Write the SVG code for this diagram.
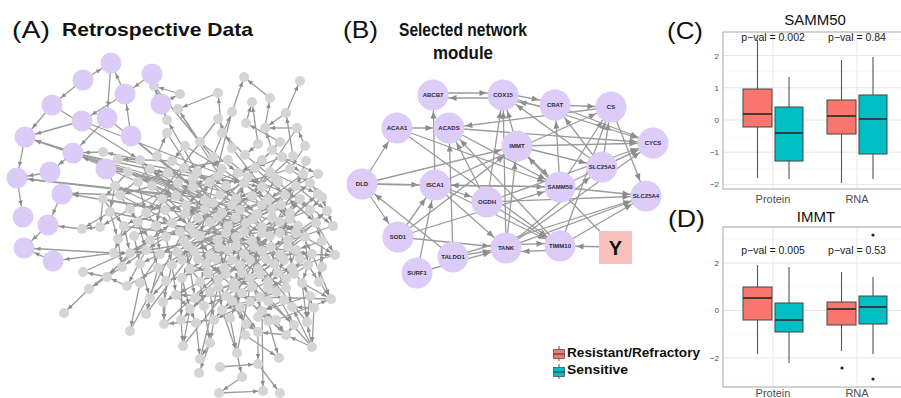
<svg xmlns="http://www.w3.org/2000/svg" width="901" height="398" viewBox="0 0 901 398">
<style>
text{font-family:"Liberation Sans",Arial,sans-serif}
.lbl{font-size:24px;fill:#111}
.ttl{font-size:18.5px;font-weight:bold;fill:#111}
.ea path{stroke:#9b9b9b;stroke-width:1.3;fill:none;marker-end:url(#arrA)}
.ep path{stroke:#9b9b9b;stroke-width:1.3;fill:none;marker-end:url(#arrAP)}
.gn circle{fill:#d5d5d5}
.pn circle{fill:#dccaf7}
.eb path{stroke:#9b9b9b;stroke-width:1.3;fill:none;marker-end:url(#arrB)}
.bn circle{fill:#ddccf7}
.bn text{font-size:6px;font-weight:bold;fill:#2a2a33;text-anchor:middle}
.gmaj{stroke:#e6e6e6;stroke-width:1}
.gmin{stroke:#f3f3f3;stroke-width:0.6}
.frame{fill:none;stroke:#a6a6a6;stroke-width:1}
.tick{font-size:8px;fill:#4d4d4d;text-anchor:end}
.xl{font-size:11px;fill:#4d4d4d;text-anchor:middle}
.pt{font-size:15px;fill:#111;text-anchor:middle}
.pv{font-size:10.5px;fill:#1a1a1a;text-anchor:middle}
.wh{stroke:#555;stroke-width:1.1}
.bxr{fill:#F8766D;stroke:#444;stroke-width:1}
.bxc{fill:#00BFC4;stroke:#444;stroke-width:1}
.med{stroke:#333;stroke-width:1.8}
.leg{font-size:13px;font-weight:bold;fill:#111}
</style>
<defs>
<marker id="arrA" markerUnits="userSpaceOnUse" markerWidth="12" markerHeight="6" refX="10" refY="2.2" orient="auto" overflow="visible"><path d="M0,0L5,2.2L0,4.4z" fill="#8c8c8c"/></marker>
<marker id="arrAP" markerUnits="userSpaceOnUse" markerWidth="18" markerHeight="6" refX="16.5" refY="2.2" orient="auto" overflow="visible"><path d="M0,0L5,2.2L0,4.4z" fill="#8c8c8c"/></marker>
<marker id="arrB" markerUnits="userSpaceOnUse" markerWidth="26" markerHeight="7" refX="23.5" refY="3" orient="auto" overflow="visible"><path d="M0,0L7,3L0,6z" fill="#8c8c8c"/></marker>
</defs>
<rect width="901" height="398" fill="#fff"/>

<!-- Panel A -->
<text class="lbl" x="12" y="38" textLength="38" lengthAdjust="spacingAndGlyphs">(A)</text>
<text class="ttl" x="62" y="36" textLength="191" lengthAdjust="spacingAndGlyphs">Retrospective Data</text>

<g id="connectors-a">
<g class="ea">
<path d="M185 146L172 161"/><path d="M185 146L222 169"/><path d="M200 142L238 173"/><path d="M200 142L178 109"/><path d="M232 148L218 119"/><path d="M232 148L262 187"/><path d="M258 144L245 155"/><path d="M258 144L252 102"/><path d="M272 150L303 174"/><path d="M272 150L265 128"/><path d="M305 146L290 169"/><path d="M305 146L297 128"/>
<path d="M140 160L152 186"/><path d="M140 160L103 152"/><path d="M157 156L193 187"/><path d="M157 156L167 133"/><path d="M172 161L210 182"/><path d="M172 161L118 159"/><path d="M213 157L197 172"/><path d="M213 157L232 112"/><path d="M228 160L262 187"/><path d="M228 160L184 168"/><path d="M245 155L278 182"/><path d="M245 155L222 133"/><path d="M262 160L238 173"/><path d="M262 160L280 142"/><path d="M282 157L255 168"/><path d="M282 157L318 174"/><path d="M306 161L296 186"/>
<path d="M128 172L103 199"/><path d="M128 172L176 196"/><path d="M150 169L120 195"/><path d="M150 169L205 200"/><path d="M168 173L138 182"/><path d="M168 173L244 183"/><path d="M184 168L226 186"/><path d="M184 168L162 199"/><path d="M197 172L236 199"/><path d="M197 172L167 120"/><path d="M222 169L193 187"/><path d="M222 169L268 200"/><path d="M238 173L220 195"/><path d="M238 173L300 199"/><path d="M255 168L285 195"/><path d="M255 168L210 182"/><path d="M270 172L252 196"/><path d="M270 172L318 194"/><path d="M290 169L310 183"/><path d="M290 169L244 183"/><path d="M303 174L322 197"/><path d="M303 174L268 200"/>
<path d="M115 186L110 212"/><path d="M115 186L165 210"/><path d="M138 182L146 213"/><path d="M152 186L185 214"/><path d="M152 186L120 195"/><path d="M178 183L205 209"/><path d="M178 183L130 209"/><path d="M193 187L222 213"/><path d="M193 187L162 199"/><path d="M210 182L240 210"/><path d="M210 182L176 196"/><path d="M226 186L257 214"/><path d="M226 186L205 209"/><path d="M244 183L272 209"/><path d="M244 183L220 195"/><path d="M262 187L290 213"/><path d="M262 187L236 199"/><path d="M278 182L310 210"/><path d="M278 182L252 196"/><path d="M296 186L272 209"/><path d="M296 186L327 211"/><path d="M310 183L322 197"/>
<path d="M103 199L124 226"/><path d="M103 199L100 227"/><path d="M120 195L138 222"/><path d="M120 195L172 223"/><path d="M162 199L156 226"/><path d="M162 199L190 227"/><path d="M176 196L210 222"/><path d="M176 196L146 213"/><path d="M205 200L228 226"/><path d="M205 200L165 210"/><path d="M220 195L246 223"/><path d="M220 195L185 214"/><path d="M236 199L262 227"/><path d="M236 199L205 209"/><path d="M252 196L280 222"/><path d="M252 196L222 213"/><path d="M268 200L298 226"/><path d="M268 200L240 210"/><path d="M285 195L316 223"/><path d="M285 195L257 214"/><path d="M300 199L290 213"/><path d="M300 199L333 226"/><path d="M322 197L310 210"/><path d="M322 197L327 211"/>
<path d="M110 212L118 239"/><path d="M110 212L82 229"/><path d="M130 209L150 240"/><path d="M130 209L100 227"/><path d="M146 213L166 237"/><path d="M146 213L124 226"/><path d="M165 210L184 241"/><path d="M165 210L138 222"/><path d="M185 214L200 236"/><path d="M185 214L156 226"/><path d="M205 209L218 240"/><path d="M205 209L172 223"/><path d="M222 213L236 237"/><path d="M222 213L190 227"/><path d="M240 210L252 241"/><path d="M240 210L210 222"/><path d="M257 214L270 236"/><path d="M257 214L228 226"/><path d="M272 209L288 240"/><path d="M272 209L246 223"/><path d="M290 213L305 237"/><path d="M290 213L262 227"/><path d="M310 210L322 241"/><path d="M310 210L280 222"/>
<path d="M124 226L130 253"/><path d="M124 226L114 253"/><path d="M138 222L146 250"/><path d="M138 222L118 239"/><path d="M156 226L160 254"/><path d="M156 226L134 236"/><path d="M172 223L194 251"/><path d="M172 223L150 240"/><path d="M190 227L210 255"/><path d="M190 227L166 237"/><path d="M210 222L228 250"/><path d="M210 222L184 241"/><path d="M228 226L244 254"/><path d="M228 226L200 236"/><path d="M246 223L262 251"/><path d="M246 223L218 240"/><path d="M262 227L280 255"/><path d="M262 227L236 237"/><path d="M280 222L296 250"/><path d="M280 222L252 241"/><path d="M298 226L312 254"/><path d="M298 226L270 236"/><path d="M316 223L335 255"/><path d="M316 223L288 240"/>
<path d="M118 239L122 267"/><path d="M134 236L140 264"/><path d="M150 240L158 268"/><path d="M150 240L130 253"/><path d="M166 237L172 265"/><path d="M166 237L146 250"/><path d="M184 241L190 269"/><path d="M184 241L160 254"/><path d="M200 236L206 264"/><path d="M200 236L177 252"/><path d="M218 240L224 268"/><path d="M218 240L194 251"/><path d="M236 237L240 265"/><path d="M236 237L210 255"/><path d="M252 241L258 269"/><path d="M252 241L228 250"/><path d="M270 236L274 264"/><path d="M270 236L244 254"/><path d="M288 240L292 268"/><path d="M288 240L262 251"/><path d="M305 237L308 265"/><path d="M305 237L280 255"/><path d="M322 241L322 267"/><path d="M322 241L296 250"/>
<path d="M130 253L107 277"/><path d="M146 250L127 286"/><path d="M146 250L122 267"/><path d="M160 254L140 283"/><path d="M160 254L140 264"/><path d="M194 251L182 278"/><path d="M194 251L172 265"/><path d="M210 255L200 282"/><path d="M210 255L190 269"/><path d="M228 250L218 279"/><path d="M228 250L206 264"/><path d="M244 254L234 283"/><path d="M244 254L224 268"/><path d="M262 251L250 278"/><path d="M262 251L240 265"/><path d="M280 255L268 282"/><path d="M280 255L258 269"/><path d="M296 250L286 279"/><path d="M296 250L274 264"/><path d="M312 254L302 283"/><path d="M312 254L292 268"/>
<path d="M122 267L89 289"/><path d="M140 264L150 298"/><path d="M158 268L166 281"/><path d="M158 268L146 314"/><path d="M172 265L176 295"/><path d="M172 265L163 302"/><path d="M190 269L210 292"/><path d="M190 269L195 298"/><path d="M206 264L226 296"/><path d="M206 264L182 278"/><path d="M224 268L242 293"/><path d="M224 268L200 282"/><path d="M240 265L260 297"/><path d="M240 265L218 279"/><path d="M258 269L276 292"/><path d="M258 269L234 283"/><path d="M274 264L286 279"/><path d="M274 264L250 278"/><path d="M292 268L310 296"/><path d="M292 268L268 282"/><path d="M308 265L319 282"/><path d="M308 265L286 279"/>
<path d="M166 281L164 324"/><path d="M166 281L150 298"/><path d="M182 278L190 309"/><path d="M182 278L181 320"/><path d="M200 282L204 306"/><path d="M200 282L176 295"/><path d="M218 279L222 310"/><path d="M218 279L195 298"/><path d="M234 283L240 307"/><path d="M234 283L210 292"/><path d="M250 278L262 311"/><path d="M250 278L226 296"/><path d="M268 282L276 292"/><path d="M268 282L242 293"/><path d="M286 279L292 307"/><path d="M286 279L260 297"/><path d="M302 283L314 308"/><path d="M302 283L331 299"/>
<path d="M176 295L190 309"/><path d="M176 295L163 302"/><path d="M210 292L214 320"/><path d="M210 292L181 320"/><path d="M226 296L246 324"/><path d="M226 296L204 306"/><path d="M242 293L268 321"/><path d="M242 293L230 318"/><path d="M260 297L258 317"/><path d="M260 297L222 310"/><path d="M276 292L294 325"/><path d="M276 292L240 307"/><path d="M310 296L307 322"/><path d="M310 296L262 311"/>
<path d="M190 309L196 323"/><path d="M190 309L183 346"/><path d="M204 306L210 343"/><path d="M222 310L214 320"/><path d="M222 310L237 353"/><path d="M240 307L245 335"/><path d="M240 307L258 332"/><path d="M262 311L276 320"/><path d="M262 311L286 335"/><path d="M314 308L312 347"/><path d="M314 308L292 307"/>
<path d="M196 323L200 359"/><path d="M214 320L210 343"/><path d="M214 320L164 324"/><path d="M246 324L258 332"/><path d="M268 321L279 358"/><path d="M294 325L286 335"/>
<path d="M118 159L262 187"/><path d="M150 169L290 213"/><path d="M128 172L280 255"/><path d="M103 199L246 223"/><path d="M115 186L305 237"/><path d="M110 212L252 241"/><path d="M124 226L312 254"/><path d="M130 253L298 226"/><path d="M177 252L335 255"/><path d="M167 133L244 254"/><path d="M178 109L226 186"/><path d="M154 86L222 169"/><path d="M218 119L146 213"/><path d="M232 112L200 236"/><path d="M280 142L184 241"/><path d="M297 128L210 255"/><path d="M293 156L172 265"/><path d="M318 174L160 254"/><path d="M318 194L190 309"/><path d="M327 211L222 310"/><path d="M333 226L166 281"/><path d="M335 255L210 292"/><path d="M331 299L176 295"/><path d="M307 322L228 226"/><path d="M312 347L240 265"/><path d="M286 335L194 251"/><path d="M237 353L262 227"/><path d="M200 359L244 183"/><path d="M183 346L270 236"/><path d="M164 324L300 199"/><path d="M146 314L262 160"/><path d="M130 331L210 182"/><path d="M127 286L285 195"/><path d="M89 289L172 223"/><path d="M83 272L252 196"/>
<path d="M180 94L154 86"/><path d="M218 93L178 109"/><path d="M232 112L244 77"/><path d="M270 98L244 77"/><path d="M286 113L300 81"/><path d="M246 123L252 102"/><path d="M265 128L270 98"/><path d="M286 113L265 128"/><path d="M297 128L265 128"/><path d="M280 142L246 123"/><path d="M293 156L286 113"/><path d="M222 133L218 93"/><path d="M167 120L154 86"/><path d="M322 197L333 226"/><path d="M312 254L331 299"/><path d="M305 237L335 255"/><path d="M322 241L319 282"/><path d="M308 265L331 299"/><path d="M302 283L307 322"/><path d="M312 347L286 335"/><path d="M312 347L307 322"/><path d="M312 347L292 307"/><path d="M276 320L286 335"/><path d="M276 320L331 299"/><path d="M286 335L258 332"/><path d="M245 335L279 358"/><path d="M258 332L258 364"/><path d="M220 367L258 364"/><path d="M258 364L280 393"/><path d="M242 377L219 393"/><path d="M219 393L263 391"/><path d="M230 318L237 353"/><path d="M210 343L199 373"/><path d="M210 343L200 359"/><path d="M181 320L183 346"/><path d="M140 283L130 331"/><path d="M150 298L146 314"/><path d="M127 286L107 277"/><path d="M107 277L83 272"/><path d="M89 289L64 313"/><path d="M100 227L82 229"/><path d="M177 252L114 253"/><path d="M163 302L164 324"/><path d="M237 353L242 377"/><path d="M262 311L263 391"/>
<path d="M107 118L193 187"/><path d="M82 121L244 183"/><path d="M131 136L222 213"/><path d="M106 169L178 183"/><path d="M161 104L167 120"/><path d="M106 169L120 195"/><path d="M25 137L230 200"/><path d="M25 137L300 230"/><path d="M73 153L168 173"/><path d="M52 105L140 160"/><path d="M161 104L180 94"/>
<path d="M193 178L213 203"/><path d="M218 176L186 205"/><path d="M248 177L232 205"/><path d="M275 178L262 205"/><path d="M186 205L198 218"/><path d="M213 203L236 218"/><path d="M232 205L218 217"/><path d="M262 205L253 219"/><path d="M281 205L290 219"/><path d="M198 218L180 232"/><path d="M218 217L226 233"/><path d="M236 218L262 233"/><path d="M253 219L244 232"/><path d="M272 218L296 233"/><path d="M290 219L280 233"/><path d="M180 232L188 246"/><path d="M194 233L219 247"/><path d="M226 233L236 246"/><path d="M244 232L271 247"/><path d="M262 233L254 247"/><path d="M280 233L288 247"/><path d="M296 233L271 247"/><path d="M188 246L182 260"/><path d="M219 247L198 259"/><path d="M236 246L232 260"/><path d="M254 247L266 259"/><path d="M271 247L250 260"/><path d="M288 247L300 259"/><path d="M182 260L208 273"/><path d="M198 259L226 274"/><path d="M216 259L242 273"/><path d="M232 260L208 273"/><path d="M250 260L260 274"/><path d="M266 259L294 274"/><path d="M284 260L278 273"/><path d="M300 259L294 274"/><path d="M208 273L218 287"/><path d="M226 274L252 287"/><path d="M242 273L234 288"/><path d="M260 274L268 288"/><path d="M278 273L286 288"/><path d="M294 274L268 288"/><path d="M218 287L232 301"/><path d="M234 288L250 302"/><path d="M252 287L268 301"/><path d="M268 288L284 300"/><path d="M286 288L250 302"/><path d="M232 301L246 324"/><path d="M250 302L214 320"/><path d="M268 301L294 325"/><path d="M284 300L262 311"/>
<path d="M188 246L300 199"/><path d="M216 259L310 183"/><path d="M250 260L140 160"/><path d="M226 274L318 194"/><path d="M286 288L172 223"/><path d="M242 273L327 211"/><path d="M198 259L296 186"/><path d="M280 233L178 183"/><path d="M232 301L303 174"/><path d="M266 259L150 169"/>
</g>
<g class="ep">
<path d="M83 80L111 63"/><path d="M152 74L125 94"/><path d="M83 80L52 105"/><path d="M52 105L25 137"/><path d="M82 121L25 137"/><path d="M25 137L17 178"/><path d="M17 178L23 217"/><path d="M62 193L48 225"/><path d="M48 225L24 248"/><path d="M53 261L24 248"/><path d="M73 153L50 172"/><path d="M131 136L125 94"/><path d="M111 63L107 118"/><path d="M107 118L73 153"/><path d="M125 94L111 63"/><path d="M114 253L53 261"/><path d="M114 253L24 248"/><path d="M103 152L73 153"/><path d="M178 187L25 137"/><path d="M205 200L25 137"/><path d="M196 197L17 178"/><path d="M176 196L17 178"/><path d="M120 195L62 193"/><path d="M165 210L62 193"/><path d="M138 182L73 153"/><path d="M82 229L48 225"/><path d="M154 86L161 104"/><path d="M125 94L82 121"/><path d="M50 172L17 178"/>
</g>
</g>

<g id="nodes-a-grey" class="gn">
<circle id="a1" cx="154" cy="86" r="5"/><circle id="a2" cx="180" cy="94" r="5"/><circle id="a3" cx="178" cy="109" r="5"/><circle id="a4" cx="218" cy="93" r="5"/><circle id="a5" cx="244" cy="77" r="5"/><circle id="a6" cx="300" cy="81" r="5"/><circle id="a7" cx="270" cy="98" r="5"/><circle id="a8" cx="252" cy="102" r="5"/><circle id="a9" cx="232" cy="112" r="5"/><circle id="a10" cx="218" cy="119" r="5"/><circle id="a11" cx="286" cy="113" r="5"/><circle id="a12" cx="297" cy="128" r="5"/><circle id="a13" cx="265" cy="128" r="5"/><circle id="a14" cx="246" cy="123" r="5"/><circle id="a15" cx="222" cy="133" r="5"/><circle id="a16" cx="280" cy="142" r="5"/><circle id="a17" cx="293" cy="156" r="5"/><circle id="a18" cx="318" cy="174" r="5"/><circle id="a19" cx="318" cy="194" r="5"/><circle id="a20" cx="167" cy="120" r="5"/><circle id="a21" cx="167" cy="133" r="5"/><circle id="a22" cx="103" cy="152" r="5"/><circle id="a23" cx="118" cy="159" r="5"/><circle id="a24" cx="327" cy="211" r="5"/><circle id="a25" cx="333" cy="226" r="5"/><circle id="a26" cx="335" cy="255" r="5"/><circle id="a27" cx="322" cy="267" r="5"/><circle id="a28" cx="319" cy="282" r="5"/><circle id="a29" cx="331" cy="299" r="5"/><circle id="a30" cx="307" cy="322" r="5"/><circle id="a31" cx="286" cy="335" r="5"/><circle id="a32" cx="312" cy="347" r="5"/><circle id="a33" cx="276" cy="320" r="5"/><circle id="a34" cx="292" cy="307" r="5"/><circle id="a35" cx="258" cy="317" r="5"/><circle id="a36" cx="258" cy="332" r="5"/><circle id="a37" cx="245" cy="335" r="5"/><circle id="a38" cx="279" cy="358" r="5"/><circle id="a39" cx="258" cy="364" r="5"/><circle id="a40" cx="237" cy="353" r="5"/><circle id="a41" cx="220" cy="367" r="5"/><circle id="a42" cx="242" cy="377" r="5"/><circle id="a43" cx="263" cy="391" r="5"/><circle id="a44" cx="280" cy="393" r="5"/><circle id="a45" cx="219" cy="393" r="5"/><circle id="a46" cx="230" cy="318" r="5"/><circle id="a47" cx="100" cy="227" r="5"/><circle id="a48" cx="82" cy="229" r="5"/><circle id="a49" cx="114" cy="253" r="5"/><circle id="a50" cx="107" cy="277" r="5"/><circle id="a51" cx="83" cy="272" r="5"/><circle id="a52" cx="89" cy="289" r="5"/><circle id="a53" cx="64" cy="313" r="5"/><circle id="a54" cx="127" cy="286" r="5"/><circle id="a55" cx="140" cy="283" r="5"/><circle id="a56" cx="150" cy="298" r="5"/><circle id="a57" cx="146" cy="314" r="5"/><circle id="a58" cx="130" cy="331" r="5"/><circle id="a59" cx="164" cy="324" r="5"/><circle id="a60" cx="163" cy="302" r="5"/><circle id="a61" cx="183" cy="346" r="5"/><circle id="a62" cx="200" cy="359" r="5"/><circle id="a63" cx="199" cy="373" r="5"/><circle id="a64" cx="210" cy="343" r="5"/><circle id="a65" cx="177" cy="252" r="5"/><circle id="a66" cx="195" cy="298" r="5"/><circle id="a67" cx="181" cy="320" r="5"/>
<circle id="b1" cx="185" cy="146" r="5"/><circle id="b2" cx="200" cy="142" r="5"/><circle id="b3" cx="232" cy="148" r="5"/><circle id="b4" cx="258" cy="144" r="5"/><circle id="b5" cx="272" cy="150" r="5"/><circle id="b6" cx="305" cy="146" r="5"/>
<circle id="c1" cx="140" cy="160" r="5"/><circle id="c2" cx="157" cy="156" r="5"/><circle id="c3" cx="172" cy="161" r="5"/><circle id="c4" cx="213" cy="157" r="5"/><circle id="c5" cx="228" cy="160" r="5"/><circle id="c6" cx="245" cy="155" r="5"/><circle id="c7" cx="262" cy="160" r="5"/><circle id="c8" cx="282" cy="157" r="5"/><circle id="c9" cx="306" cy="161" r="5"/>
<circle id="d1" cx="128" cy="172" r="5"/><circle id="d2" cx="150" cy="169" r="5"/><circle id="d3" cx="168" cy="173" r="5"/><circle id="d4" cx="184" cy="168" r="5"/><circle id="d5" cx="197" cy="172" r="5"/><circle id="d6" cx="222" cy="169" r="5"/><circle id="d7" cx="238" cy="173" r="5"/><circle id="d8" cx="255" cy="168" r="5"/><circle id="d9" cx="270" cy="172" r="5"/><circle id="d10" cx="290" cy="169" r="5"/><circle id="d11" cx="303" cy="174" r="5"/>
<circle id="e1" cx="115" cy="186" r="5"/><circle id="e2" cx="138" cy="182" r="5"/><circle id="e3" cx="152" cy="186" r="5"/><circle id="e4" cx="178" cy="183" r="5"/><circle id="e5" cx="193" cy="187" r="5"/><circle id="e6" cx="210" cy="182" r="5"/><circle id="e7" cx="226" cy="186" r="5"/><circle id="e8" cx="244" cy="183" r="5"/><circle id="e9" cx="262" cy="187" r="5"/><circle id="e10" cx="278" cy="182" r="5"/><circle id="e11" cx="296" cy="186" r="5"/><circle id="e12" cx="310" cy="183" r="5"/>
<circle id="f1" cx="103" cy="199" r="5"/><circle id="f2" cx="120" cy="195" r="5"/><circle id="f3" cx="162" cy="199" r="5"/><circle id="f4" cx="176" cy="196" r="5"/><circle id="f5" cx="205" cy="200" r="5"/><circle id="f6" cx="220" cy="195" r="5"/><circle id="f7" cx="236" cy="199" r="5"/><circle id="f8" cx="252" cy="196" r="5"/><circle id="f9" cx="268" cy="200" r="5"/><circle id="f10" cx="285" cy="195" r="5"/><circle id="f11" cx="300" cy="199" r="5"/><circle id="f12" cx="322" cy="197" r="5"/>
<circle id="h1" cx="110" cy="212" r="5"/><circle id="h2" cx="130" cy="209" r="5"/><circle id="h3" cx="146" cy="213" r="5"/><circle id="h4" cx="165" cy="210" r="5"/><circle id="h5" cx="185" cy="214" r="5"/><circle id="h6" cx="205" cy="209" r="5"/><circle id="h7" cx="222" cy="213" r="5"/><circle id="h8" cx="240" cy="210" r="5"/><circle id="h9" cx="257" cy="214" r="5"/><circle id="h10" cx="272" cy="209" r="5"/><circle id="h11" cx="290" cy="213" r="5"/><circle id="h12" cx="310" cy="210" r="5"/>
<circle id="i1" cx="124" cy="226" r="5"/><circle id="i2" cx="138" cy="222" r="5"/><circle id="i3" cx="156" cy="226" r="5"/><circle id="i4" cx="172" cy="223" r="5"/><circle id="i5" cx="190" cy="227" r="5"/><circle id="i6" cx="210" cy="222" r="5"/><circle id="i7" cx="228" cy="226" r="5"/><circle id="i8" cx="246" cy="223" r="5"/><circle id="i9" cx="262" cy="227" r="5"/><circle id="i10" cx="280" cy="222" r="5"/><circle id="i11" cx="298" cy="226" r="5"/><circle id="i12" cx="316" cy="223" r="5"/>
<circle id="j1" cx="118" cy="239" r="5"/><circle id="j2" cx="134" cy="236" r="5"/><circle id="j3" cx="150" cy="240" r="5"/><circle id="j4" cx="166" cy="237" r="5"/><circle id="j5" cx="184" cy="241" r="5"/><circle id="j6" cx="200" cy="236" r="5"/><circle id="j7" cx="218" cy="240" r="5"/><circle id="j8" cx="236" cy="237" r="5"/><circle id="j9" cx="252" cy="241" r="5"/><circle id="j10" cx="270" cy="236" r="5"/><circle id="j11" cx="288" cy="240" r="5"/><circle id="j12" cx="305" cy="237" r="5"/><circle id="j13" cx="322" cy="241" r="5"/>
<circle id="k1" cx="130" cy="253" r="5"/><circle id="k2" cx="146" cy="250" r="5"/><circle id="k3" cx="160" cy="254" r="5"/><circle id="k4" cx="194" cy="251" r="5"/><circle id="k5" cx="210" cy="255" r="5"/><circle id="k6" cx="228" cy="250" r="5"/><circle id="k7" cx="244" cy="254" r="5"/><circle id="k8" cx="262" cy="251" r="5"/><circle id="k9" cx="280" cy="255" r="5"/><circle id="k10" cx="296" cy="250" r="5"/><circle id="k11" cx="312" cy="254" r="5"/>
<circle id="l1" cx="122" cy="267" r="5"/><circle id="l2" cx="140" cy="264" r="5"/><circle id="l3" cx="158" cy="268" r="5"/><circle id="l4" cx="172" cy="265" r="5"/><circle id="l5" cx="190" cy="269" r="5"/><circle id="l6" cx="206" cy="264" r="5"/><circle id="l7" cx="224" cy="268" r="5"/><circle id="l8" cx="240" cy="265" r="5"/><circle id="l9" cx="258" cy="269" r="5"/><circle id="l10" cx="274" cy="264" r="5"/><circle id="l11" cx="292" cy="268" r="5"/><circle id="l12" cx="308" cy="265" r="5"/>
<circle id="m1" cx="166" cy="281" r="5"/><circle id="m2" cx="182" cy="278" r="5"/><circle id="m3" cx="200" cy="282" r="5"/><circle id="m4" cx="218" cy="279" r="5"/><circle id="m5" cx="234" cy="283" r="5"/><circle id="m6" cx="250" cy="278" r="5"/><circle id="m7" cx="268" cy="282" r="5"/><circle id="m8" cx="286" cy="279" r="5"/><circle id="m9" cx="302" cy="283" r="5"/>
<circle id="o1" cx="176" cy="295" r="5"/><circle id="o2" cx="210" cy="292" r="5"/><circle id="o3" cx="226" cy="296" r="5"/><circle id="o4" cx="242" cy="293" r="5"/><circle id="o5" cx="260" cy="297" r="5"/><circle id="o6" cx="276" cy="292" r="5"/><circle id="o7" cx="310" cy="296" r="5"/>
<circle id="q1" cx="190" cy="309" r="5"/><circle id="q2" cx="204" cy="306" r="5"/><circle id="q3" cx="222" cy="310" r="5"/><circle id="q4" cx="240" cy="307" r="5"/><circle id="q5" cx="262" cy="311" r="5"/><circle id="q6" cx="314" cy="308" r="5"/>
<circle id="s1" cx="196" cy="323" r="5"/><circle id="s2" cx="214" cy="320" r="5"/><circle id="s3" cx="246" cy="324" r="5"/><circle id="s4" cx="268" cy="321" r="5"/><circle id="s5" cx="294" cy="325" r="5"/>
<circle id="t1" cx="193" cy="178" r="5"/><circle id="t2" cx="218" cy="176" r="5"/><circle id="t3" cx="248" cy="177" r="5"/><circle id="t4" cx="275" cy="178" r="5"/><circle id="t5" cx="186" cy="205" r="5"/><circle id="t6" cx="213" cy="203" r="5"/><circle id="t7" cx="232" cy="205" r="5"/><circle id="t8" cx="262" cy="205" r="5"/><circle id="t9" cx="281" cy="205" r="5"/><circle id="t10" cx="198" cy="218" r="5"/><circle id="t11" cx="218" cy="217" r="5"/><circle id="t12" cx="236" cy="218" r="5"/><circle id="t13" cx="253" cy="219" r="5"/><circle id="t14" cx="272" cy="218" r="5"/><circle id="t15" cx="290" cy="219" r="5"/><circle id="t16" cx="180" cy="232" r="5"/><circle id="t17" cx="194" cy="233" r="5"/><circle id="t18" cx="226" cy="233" r="5"/><circle id="t19" cx="244" cy="232" r="5"/><circle id="t20" cx="262" cy="233" r="5"/><circle id="t21" cx="280" cy="233" r="5"/><circle id="t22" cx="296" cy="233" r="5"/><circle id="t23" cx="188" cy="246" r="5"/><circle id="t24" cx="219" cy="247" r="5"/><circle id="t25" cx="236" cy="246" r="5"/><circle id="t26" cx="254" cy="247" r="5"/><circle id="t27" cx="271" cy="247" r="5"/><circle id="t28" cx="288" cy="247" r="5"/><circle id="t29" cx="182" cy="260" r="5"/><circle id="t30" cx="198" cy="259" r="5"/><circle id="t31" cx="216" cy="259" r="5"/><circle id="t32" cx="232" cy="260" r="5"/><circle id="t33" cx="250" cy="260" r="5"/><circle id="t34" cx="266" cy="259" r="5"/><circle id="t35" cx="284" cy="260" r="5"/><circle id="t36" cx="300" cy="259" r="5"/><circle id="t37" cx="208" cy="273" r="5"/><circle id="t38" cx="226" cy="274" r="5"/><circle id="t39" cx="242" cy="273" r="5"/><circle id="t40" cx="260" cy="274" r="5"/><circle id="t41" cx="278" cy="273" r="5"/><circle id="t42" cx="294" cy="274" r="5"/><circle id="t43" cx="218" cy="287" r="5"/><circle id="t44" cx="234" cy="288" r="5"/><circle id="t45" cx="252" cy="287" r="5"/><circle id="t46" cx="268" cy="288" r="5"/><circle id="t47" cx="286" cy="288" r="5"/><circle id="t48" cx="232" cy="301" r="5"/><circle id="t49" cx="250" cy="302" r="5"/><circle id="t50" cx="268" cy="301" r="5"/><circle id="t51" cx="284" cy="300" r="5"/>
</g>

<g id="nodes-a-purple" class="pn">
<g id="p1"><circle cx="111" cy="63" r="10.5"/></g>
<g id="p2"><circle cx="152" cy="74" r="10.5"/></g>
<g id="p3"><circle cx="83" cy="80" r="10.5"/></g>
<g id="p4"><circle cx="125" cy="94" r="10.5"/></g>
<g id="p5"><circle cx="52" cy="105" r="10.5"/></g>
<g id="p6"><circle cx="161" cy="104" r="10.5"/></g>
<g id="p7"><circle cx="82" cy="121" r="10.5"/></g>
<g id="p8"><circle cx="107" cy="118" r="10.5"/></g>
<g id="p9"><circle cx="131" cy="136" r="10.5"/></g>
<g id="p10"><circle cx="25" cy="137" r="10.5"/></g>
<g id="p11"><circle cx="73" cy="153" r="10.5"/></g>
<g id="p12"><circle cx="50" cy="172" r="10.5"/></g>
<g id="p13"><circle cx="106" cy="169" r="10.5"/></g>
<g id="p14"><circle cx="17" cy="178" r="10.5"/></g>
<g id="p15"><circle cx="62" cy="194" r="10.5"/></g>
<g id="p16"><circle cx="23" cy="217" r="10.5"/></g>
<g id="p17"><circle cx="48" cy="225" r="10.5"/></g>
<g id="p18"><circle cx="24" cy="248" r="10.5"/></g>
<g id="p19"><circle cx="53" cy="261" r="10.5"/></g>
</g>

<!-- Panel B -->
<text class="lbl" x="343" y="38" textLength="35" lengthAdjust="spacingAndGlyphs">(B)</text>
<text class="ttl" x="399" y="36" textLength="128" lengthAdjust="spacingAndGlyphs">Selected network</text>
<text class="ttl" x="433" y="59" textLength="60" lengthAdjust="spacingAndGlyphs">module</text>

<g id="connectors-b" class="eb">
<path d="M433 93L503 93"/><path d="M503 98L433 98"/><path d="M503 93L555 103"/><path d="M555 109L503 99"/><path d="M555 105L611 107"/><path d="M611 107L449 128"/><path d="M602 167L503 95"/><path d="M397 128L449 128"/><path d="M397 128L560 187"/><path d="M397 128L560 246"/><path d="M449 128L560 187"/><path d="M362 184L397 128"/><path d="M362 184L435 185"/><path d="M362 184L398 237"/><path d="M362 184L517 146"/><path d="M362 184L560 187"/><path d="M398 237L435 185"/><path d="M398 237L506 248"/><path d="M398 237L517 146"/><path d="M453 257L362 184"/><path d="M453 257L449 128"/><path d="M453 257L506 248"/><path d="M453 257L646 196"/><path d="M417 273L435 185"/><path d="M417 273L506 248"/><path d="M435 185L433 95"/><path d="M435 185L487 202"/><path d="M435 185L506 248"/><path d="M435 185L560 246"/><path d="M435 185L611 107"/><path d="M487 202L503 95"/><path d="M487 202L653 143"/><path d="M487 202L646 196"/><path d="M487 202L560 246"/><path d="M517 146L503 95"/><path d="M517 146L653 143"/><path d="M517 146L560 187"/><path d="M517 146L602 167"/><path d="M560 187L555 105"/><path d="M560 187L611 107"/><path d="M560 187L646 196"/><path d="M560 187L653 143"/><path d="M560 187L435 185"/><path d="M602 167L611 107"/><path d="M602 167L653 143"/><path d="M602 167L555 105"/><path d="M506 245L560 243"/><path d="M560 250L506 252"/><path d="M506 248L602 167"/><path d="M506 248L653 143"/><path d="M506 248L517 146"/><path d="M506 248L646 196"/><path d="M560 246L646 196"/><path d="M560 246L611 107"/><path d="M560 246L449 128"/><path d="M615 247L560 246"/><path d="M615 247L517 146"/><path d="M611 107L646 196"/><path d="M503 95L653 143"/><path d="M555 105L653 143"/><path d="M487 202L449 128"/><path d="M506 248L503 95"/><path d="M398 237L560 187"/><path d="M449 128L653 143"/>
</g>

<g class="bn">
<g id="ABCB7"><circle cx="433" cy="95" r="15.5"/><text x="433" y="97">ABCB7</text></g>
<g id="COX15"><circle cx="503" cy="95" r="15.5"/><text x="503" y="97">COX15</text></g>
<g id="CRAT"><circle cx="555" cy="105" r="15.5"/><text x="555" y="107">CRAT</text></g>
<g id="CS"><circle cx="611" cy="107" r="15.5"/><text x="611" y="109">CS</text></g>
<g id="ACAA1"><circle cx="397" cy="128" r="15.5"/><text x="397" y="130">ACAA1</text></g>
<g id="ACADS"><circle cx="449" cy="128" r="15.5"/><text x="449" y="130">ACADS</text></g>
<g id="IMMT"><circle cx="517" cy="146" r="15.5"/><text x="517" y="148">IMMT</text></g>
<g id="CYCS"><circle cx="653" cy="143" r="15.5"/><text x="653" y="145">CYCS</text></g>
<g id="SLC25A3"><circle cx="602" cy="167" r="15.5"/><text x="602" y="169">SLC25A3</text></g>
<g id="DLD"><circle cx="362" cy="184" r="15.5"/><text x="362" y="186">DLD</text></g>
<g id="ISCA1"><circle cx="435" cy="185" r="15.5"/><text x="435" y="187">ISCA1</text></g>
<g id="OGDH"><circle cx="487" cy="202" r="15.5"/><text x="487" y="204">OGDH</text></g>
<g id="SAMM50"><circle cx="560" cy="187" r="15.5"/><text x="560" y="189">SAMM50</text></g>
<g id="SLC25A4"><circle cx="646" cy="196" r="15.5"/><text x="646" y="198">SLC25A4</text></g>
<g id="SOD1"><circle cx="398" cy="237" r="15.5"/><text x="398" y="239">SOD1</text></g>
<g id="TALDO1"><circle cx="453" cy="257" r="15.5"/><text x="453" y="259">TALDO1</text></g>
<g id="TANK"><circle cx="506" cy="248" r="15.5"/><text x="506" y="250">TANK</text></g>
<g id="TIMM10"><circle cx="560" cy="246" r="15.5"/><text x="560" y="248">TIMM10</text></g>
<g id="SURF1"><circle cx="417" cy="273" r="15.5"/><text x="417" y="275">SURF1</text></g>
</g>
<g id="Y"><rect x="599" y="231" width="33" height="33" fill="#fac0bc"/><text x="615.5" y="255" font-size="20" font-weight="bold" fill="#111" text-anchor="middle">Y</text></g>

<!-- Panel C -->
<text class="lbl" x="667" y="39" textLength="36" lengthAdjust="spacingAndGlyphs">(C)</text>
<text class="pt" x="815" y="25">SAMM50</text>
<g id="plot-c">
<rect x="723" y="32" width="190" height="157" fill="#fff"/>
<g class="gmin"><line x1="723" x2="913" y1="39.5" y2="39.5"/><line x1="723" x2="913" y1="71.7" y2="71.7"/><line x1="723" x2="913" y1="103.9" y2="103.9"/><line x1="723" x2="913" y1="136.1" y2="136.1"/><line x1="723" x2="913" y1="168.3" y2="168.3"/></g>
<g class="gmaj"><line x1="723" x2="913" y1="55.6" y2="55.6"/><line x1="723" x2="913" y1="87.8" y2="87.8"/><line x1="723" x2="913" y1="120" y2="120"/><line x1="723" x2="913" y1="152.2" y2="152.2"/><line x1="723" x2="913" y1="184.4" y2="184.4"/><line x1="773" x2="773" y1="32" y2="189"/><line x1="857" x2="857" y1="32" y2="189"/></g>
<line class="wh" x1="757.5" x2="757.5" y1="40" y2="178"/><rect class="bxr" x="743" y="89" width="29" height="38"/><line class="med" x1="743" x2="772" y1="114" y2="114"/>
<line class="wh" x1="789" x2="789" y1="77" y2="179"/><rect class="bxc" x="775" y="107" width="28" height="54"/><line class="med" x1="775" x2="803" y1="133" y2="133"/>
<line class="wh" x1="841.5" x2="841.5" y1="60" y2="183"/><rect class="bxr" x="827" y="100" width="29" height="34"/><line class="med" x1="827" x2="856" y1="116" y2="116"/>
<line class="wh" x1="873" x2="873" y1="57" y2="179"/><rect class="bxc" x="859" y="95" width="28" height="59"/><line class="med" x1="859" x2="887" y1="119" y2="119"/>
<rect class="frame" x="723" y="32" width="190" height="157"/>
<text class="pv" x="773" y="41">p−val = 0.002</text><text class="pv" x="857" y="41">p−val = 0.84</text>
<text class="tick" x="719" y="58.5">2</text><text class="tick" x="719" y="90.7">1</text><text class="tick" x="719" y="122.9">0</text><text class="tick" x="719" y="155.1">−1</text><text class="tick" x="719" y="187.3">−2</text>
<text class="xl" x="773" y="203">Protein</text><text class="xl" x="857" y="203">RNA</text>
</g>

<!-- Panel D -->
<text class="lbl" x="668" y="227" textLength="37" lengthAdjust="spacingAndGlyphs">(D)</text>
<text class="pt" x="816" y="222">IMMT</text>
<g id="plot-d">
<rect x="723" y="227" width="190" height="160" fill="#fff"/>
<g class="gmin"><line x1="723" x2="913" y1="239.4" y2="239.4"/><line x1="723" x2="913" y1="286.8" y2="286.8"/><line x1="723" x2="913" y1="334.2" y2="334.2"/><line x1="723" x2="913" y1="381.6" y2="381.6"/></g>
<g class="gmaj"><line x1="723" x2="913" y1="263.1" y2="263.1"/><line x1="723" x2="913" y1="310.5" y2="310.5"/><line x1="723" x2="913" y1="357.9" y2="357.9"/><line x1="773" x2="773" y1="227" y2="387"/><line x1="857" x2="857" y1="227" y2="387"/></g>
<line class="wh" x1="757.5" x2="757.5" y1="265" y2="354"/><rect class="bxr" x="743" y="287" width="29" height="33"/><line class="med" x1="743" x2="772" y1="298" y2="298"/>
<line class="wh" x1="789" x2="789" y1="267" y2="363"/><rect class="bxc" x="775" y="303" width="28" height="29"/><line class="med" x1="775" x2="803" y1="320" y2="320"/>
<line class="wh" x1="841.5" x2="841.5" y1="272" y2="351"/><rect class="bxr" x="827" y="302" width="29" height="23"/><line class="med" x1="827" x2="856" y1="309" y2="309"/>
<line class="wh" x1="873" x2="873" y1="277" y2="354"/><rect class="bxc" x="859" y="296" width="28" height="28"/><line class="med" x1="859" x2="887" y1="307" y2="307"/>
<circle cx="842" cy="368" r="1.6" fill="#222"/><circle cx="873" cy="235" r="1.6" fill="#222"/><circle cx="873" cy="379" r="1.6" fill="#222"/>
<rect class="frame" x="723" y="227" width="190" height="160"/>
<text class="pv" x="773" y="254">p−val = 0.005</text><text class="pv" x="857" y="254">p−val = 0.53</text>
<text class="tick" x="719" y="266">2</text><text class="tick" x="719" y="313.4">0</text><text class="tick" x="719" y="360.8">−2</text>
<text class="xl" x="773" y="396.5">Protein</text><text class="xl" x="857" y="396.5">RNA</text>
</g>

<!-- Legend -->
<g id="legend">
<line x1="559" x2="559" y1="346" y2="361" stroke="#555" stroke-width="1"/><rect x="553.5" y="349.5" width="11" height="9" fill="#F8766D" stroke="#555" stroke-width="0.8"/><line x1="553.5" x2="564.5" y1="354" y2="354" stroke="#333" stroke-width="1"/>
<text class="leg" x="567" y="357" textLength="133" lengthAdjust="spacingAndGlyphs">Resistant/Refractory</text>
<line x1="559" x2="559" y1="364" y2="379" stroke="#555" stroke-width="1"/><rect x="553.5" y="367.5" width="11" height="9" fill="#00BFC4" stroke="#555" stroke-width="0.8"/><line x1="553.5" x2="564.5" y1="372" y2="372" stroke="#333" stroke-width="1"/>
<text class="leg" x="567" y="374" textLength="61" lengthAdjust="spacingAndGlyphs">Sensitive</text>
</g>
</svg>
